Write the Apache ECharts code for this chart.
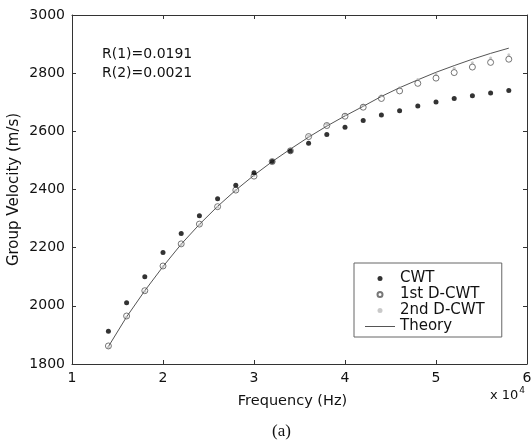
<!DOCTYPE html>
<html>
<head>
<meta charset="utf-8">
<script src="https://cdn.jsdelivr.net/npm/echarts@6/dist/echarts.min.js"></script>
<style>html,body{margin:0;padding:0;background:#fff}#c{width:532px;height:447px}</style>
</head>
<body>
<div id="c"></div>
<script>
// Frequency in units of 10^4 Hz
var freq = [1.4,1.6,1.8,2.0,2.2,2.4,2.6,2.8,3.0,3.2,3.4,3.6,3.8,4.0,4.2,4.4,4.6,4.8,5.0,5.2,5.4,5.6,5.8];
var cwt = [1913,2011,2100,2183,2249,2310,2368,2415,2458,2496,2532,2559,2589,2614,2637,2656,2671,2687,2701,2713,2722,2732,2740];
var dcwt1 = [1862,1965,2052,2137,2213,2281,2341,2398,2446,2496,2533,2582,2620,2652,2683,2713,2739,2765,2783,2802,2821,2837,2848];
var dcwt2 = [1858,1962,2050,2134,2210,2279,2340,2397,2448,2497,2537,2584,2624,2658,2690,2722,2750,2778,2797,2817,2836,2852,2863];
var theory = [1860,1962,2052,2135,2212,2280,2342,2398,2449,2496,2539,2580,2618,2653,2686,2720,2750,2777,2803,2826,2848,2868,2886];
var seriesNames = ['CWT','1st D-CWT','2nd D-CWT','Theory'];
var xTicks = {min:1, max:6, interval:1};
var yTicks = {min:1800, max:3000, interval:200};
var notes = ['R(1)=0.0191','R(2)=0.0021'];

function pairs(ys){ return freq.map(function(f,i){ return [f, ys[i]]; }); }

var FONT = 'DejaVu Sans';
var axisCol = '#333';
var chart = echarts.init(document.getElementById('c'), null, {renderer:'canvas'});
var baseX = {type:'value', min:xTicks.min, max:xTicks.max, interval:xTicks.interval,
  axisLine:{show:true, onZero:false, lineStyle:{color:axisCol, width:1}},
  axisTick:{show:true, inside:true, length:4, lineStyle:{color:axisCol}},
  splitLine:{show:false}};
var baseY = {type:'value', min:yTicks.min, max:yTicks.max, interval:yTicks.interval,
  axisLine:{show:true, onZero:false, lineStyle:{color:axisCol, width:1}},
  axisTick:{show:true, inside:true, length:4, lineStyle:{color:axisCol}},
  splitLine:{show:false}};

chart.setOption({
  animation:false,
  backgroundColor:'#fff',
  grid:{left:72, right:5, top:15, bottom:83, containLabel:false, outerBoundsMode:'none'},
  xAxis:[
    Object.assign({}, baseX, {position:'bottom',
      axisLabel:{color:'#111', fontFamily:FONT, fontSize:14, margin:7, formatter:function(v){return String(v);}},
      name:'Frequency (Hz)', nameLocation:'middle', nameGap:30, nameMoveOverlap:false,
      nameTextStyle:{color:'#111', fontFamily:FONT, fontSize:14.5, padding:[0,14,0,0]}}),
    Object.assign({}, baseX, {position:'top', axisLabel:{show:false}})
  ],
  yAxis:[
    Object.assign({}, baseY, {position:'left',
      axisLabel:{color:'#111', fontFamily:FONT, fontSize:14, margin:7, formatter:function(v){return String(v);}},
      name:'Group Velocity (m/s)', nameLocation:'middle', nameGap:50, nameMoveOverlap:false,
      nameTextStyle:{color:'#111', fontFamily:FONT, fontSize:15}}),
    Object.assign({}, baseY, {position:'right', axisLabel:{show:false}})
  ],
  legend:{
    orient:'vertical', left:354, top:263,
    data:[
      {name:seriesNames[0]},
      {name:seriesNames[1]},
      {name:seriesNames[2]},
      {name:seriesNames[3], icon:'path://M0,0H30V1H0Z'}
    ],
    itemWidth:30, itemHeight:5, itemGap:1,
    padding:[8,17,3,11],
    backgroundColor:'#fff', borderColor:'#666', borderWidth:1,
    textStyle:{color:'#111', fontFamily:FONT, fontSize:15},
    z:10
  },
  graphic:[
    {type:'text', left:102, top:45, z:5, style:{text:notes[0]+'\n'+notes[1], fill:'#111', font:'14px "DejaVu Sans"', lineHeight:19}},
    {type:'text', left:490, top:386, z:5, style:{
      text:'{a|x 10}{b|4}', fill:'#111',
      rich:{a:{fontFamily:FONT, fontSize:13, verticalAlign:'bottom', lineHeight:16},
            b:{fontFamily:FONT, fontSize:9, verticalAlign:'top', lineHeight:16, padding:[0,0,8,1]}}}},
    {type:'text', left:272, top:423, z:5, style:{text:'(a)', fill:'#111', font:'17px "Liberation Serif"'}}
  ],
  series:[
    {name:'Theory', type:'line', data:pairs(theory), symbol:'none', z:2,
      lineStyle:{color:'#555', width:1}, itemStyle:{color:'#555'}},
    {name:'2nd D-CWT', type:'scatter', data:pairs(dcwt2), symbol:'circle', symbolSize:3, z:3,
      itemStyle:{color:'#bbb'}},
    {name:'1st D-CWT', type:'scatter', data:pairs(dcwt1), symbol:'circle', symbolSize:6, z:4,
      itemStyle:{color:'rgba(255,255,255,0)', borderColor:'#555', borderWidth:1}},
    {name:'CWT', type:'scatter', data:pairs(cwt), symbol:'circle', symbolSize:5, z:5,
      itemStyle:{color:'#000'}}
  ]
});
</script>
</body>
</html>
